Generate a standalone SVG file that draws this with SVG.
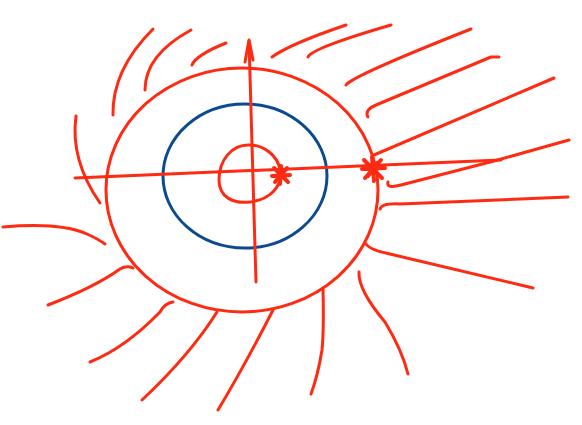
<svg xmlns="http://www.w3.org/2000/svg" width="582" height="425" viewBox="0 0 582 425">
<style>
.r{fill:none;stroke:#ff2a12;stroke-width:3;stroke-linecap:round;stroke-linejoin:round}
.b{fill:none;stroke:#0b4a8e;stroke-width:3;stroke-linecap:round}
.s{fill:none;stroke:#ff2a12;stroke-width:4;stroke-linecap:round;stroke-linejoin:round}
</style>
<rect width="582" height="425" fill="#ffffff"/>
<g id="rays">
<path class="r" d="M76,116 Q70,160 100,203"/>
<path class="r" d="M113,115 Q112,70 153,29"/>
<path class="r" d="M145,90 Q145,55 191,30"/>
<path class="r" d="M192,65 Q196,55 226,43"/>
<path class="r" d="M272,57 Q290,44 346,25"/>
<path class="r" d="M308,57 Q312,48 391,25"/>
<path class="r" d="M346,85 Q352,76 471,29"/>
<path class="r" d="M368,117 Q364,110 376,105 L491,57 L499,57"/>
<path class="r" d="M374,155 L554,78"/>
<path class="r" d="M388,182 Q386,189 401,185 L494,161 L569,140"/>
<path class="r" d="M380,209 Q382,203 400,204 L568,197"/>
<path class="r" d="M366,244 Q370,250 390,254 L533,288"/>
<path class="r" d="M359,272 Q358,290 385,322 Q402,350 408,374"/>
<path class="r" d="M323,289 Q324,330 322,350 Q318,375 311,394"/>
<path class="r" d="M3,227 Q60,222 87,234 Q98,239 105,244"/>
<path class="r" d="M48,305 Q95,287 120,269 Q127,265 133,268"/>
<path class="r" d="M90,362 Q125,348 160,312 Q165,303 173,302"/>
<path class="r" d="M142,400 Q190,355 217,312"/>
<path class="r" d="M218,410 Q245,365 273,310"/>
</g>
<g id="outer-circle">
<ellipse class="r" cx="242" cy="190" rx="136" ry="122"/>
</g>
<g id="blue-circle">
<ellipse class="b" cx="245" cy="176" rx="82" ry="72"/>
</g>
<g id="inner-circle">
<path class="r" d="M250,145 C232,144 219,160 219,180 C219,197 233,204 250,202 C268,200 283,188 280,170 C278,156 264,145 250,145 Z"/>
</g>
<g id="axes">
<path class="r" d="M75,178 Q300,168 501,160"/>
<path class="r" d="M249,41 Q252,160 256,282"/>
<path class="r" d="M245,62 L249,40 L253,60"/>
</g>
<g id="marks">
<path class="s" d="M274,168 L288,182 M287,168 L275,182 M281,166 L280,184 M272,176 L290,175"/>
<path class="s" d="M364,160 L382,178 M381,160 L365,178 M372,157 L374,181 M362,169 L385,168 M367,163 L379,175 M377,163 L368,176"/>
<circle cx="373" cy="169" r="5" fill="#ff2a12"/>
</g>
</svg>
